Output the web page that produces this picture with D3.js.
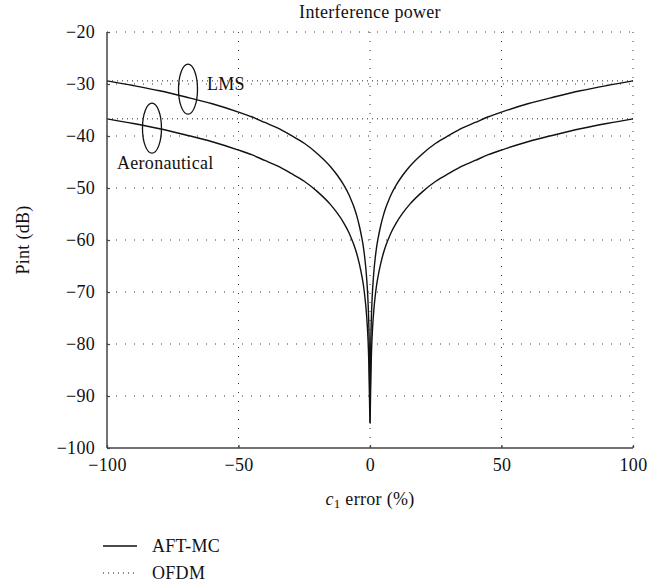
<!DOCTYPE html>
<html>
<head>
<meta charset="utf-8">
<script src="https://cdn.jsdelivr.net/npm/d3@7"></script>
<style>
  body { margin: 0; background: #fff; }
  text { font-family: "Liberation Serif", "DejaVu Serif", serif; fill: #111; letter-spacing: 0.3px; }
</style>
</head>
<body>
<div id="chart"></div>
<script>

var width = 670,
    height = 588,
    margin = {top: 32, right: 37, bottom: 140, left: 107},
    fontSize = 18;

// c1 error (%) sample points
var cError = [-100, -90, -80, -70, -60, -50, -45, -40, -35, -30, -25, -20, -15, -12.5, -10, -8, -7, -6, -5, -4, -3, -2.5, -2, -1.5, -1, -0.75, -0.5, -0.25, 0,
              0.25, 0.5, 0.75, 1, 1.5, 2, 2.5, 3, 4, 5, 6, 7, 8, 10, 12.5, 15, 20, 25, 30, 35, 40, 45, 50, 60, 70, 80, 90, 100];

// AFT-MC interference power (dB), LMS channel
var lmsPint = [-29.4, -30.3, -31.3, -32.5, -33.8, -35.4, -36.3, -37.4, -38.5, -39.9, -41.4, -43.4, -45.9, -47.5, -49.4, -51.3, -52.5, -53.8, -55.4, -57.4, -59.9, -61.4, -63.4, -65.9, -69.4, -71.9, -75.4, -81.4, -95.2,
               -81.4, -75.4, -71.9, -69.4, -65.9, -63.4, -61.4, -59.9, -57.4, -55.4, -53.8, -52.5, -51.3, -49.4, -47.5, -45.9, -43.4, -41.4, -39.9, -38.5, -37.4, -36.3, -35.4, -33.8, -32.5, -31.3, -30.3, -29.4];

// AFT-MC interference power (dB), aeronautical channel
var aeroPint = [-36.7, -37.6, -38.6, -39.8, -41.1, -42.7, -43.6, -44.7, -45.8, -47.2, -48.7, -50.7, -53.2, -54.8, -56.7, -58.6, -59.8, -61.1, -62.7, -64.7, -67.2, -68.7, -70.7, -73.2, -76.7, -79.2, -82.7, -88.7, -95.2,
                -88.7, -82.7, -79.2, -76.7, -73.2, -70.7, -68.7, -67.2, -64.7, -62.7, -61.1, -59.8, -58.6, -56.7, -54.8, -53.2, -50.7, -48.7, -47.2, -45.8, -44.7, -43.6, -42.7, -41.1, -39.8, -38.6, -37.6, -36.7];

// OFDM levels (dB)
var ofdmPint = [-29.4, -36.7];

var xTicks = [-100, -50, 0, 50, 100],
    yTicks = [-100, -90, -80, -70, -60, -50, -40, -30, -20];

// annotation ellipses: [c1, dB]
var ellipses = [
    {name: "LMS", cx: -69.2, cy: -31, tx: -62, ty: -31.2},
    {name: "Aeronautical", cx: -82.9, cy: -38.5, tx: -96.2, ty: -46.4}
];

var legendItems = [
    {label: "AFT-MC", dash: null},
    {label: "OFDM", dash: "1,4"}
];

var w = width - margin.left - margin.right,
    h = height - margin.top - margin.bottom;

var x = d3.scaleLinear().domain([-100, 100]).range([0, w]);
var y = d3.scaleLinear().domain([-100, -20]).range([h, 0]);

var svg = d3.select("#chart").append("svg")
    .attr("width", width)
    .attr("height", height);

var g = svg.append("g")
    .attr("transform", "translate(" + margin.left + "," + margin.top + ")");

// dotted grid
g.selectAll(".hgrid")
    .data(yTicks.filter(function(d){ return d > -100; }))
    .enter().append("line")
    .attr("x1", 0).attr("x2", w)
    .attr("y1", function(d){ return y(d); })
    .attr("y2", function(d){ return y(d); })
    .attr("stroke", "#333")
    .attr("stroke-width", 1)
    .attr("stroke-dasharray", "1,8");

g.selectAll(".vgrid")
    .data(xTicks.filter(function(d){ return d > -100; }))
    .enter().append("line")
    .attr("y1", 0).attr("y2", h)
    .attr("x1", function(d){ return x(d); })
    .attr("x2", function(d){ return x(d); })
    .attr("stroke", "#333")
    .attr("stroke-width", 1)
    .attr("stroke-dasharray", "1,8");

// OFDM
g.selectAll(".ofdm")
    .data(ofdmPint)
    .enter().append("line")
    .attr("x1", x(-100)).attr("x2", x(100))
    .attr("y1", function(d){ return y(d); })
    .attr("y2", function(d){ return y(d); })
    .attr("stroke", "#222")
    .attr("stroke-width", 1)
    .attr("stroke-dasharray", "1,4");

// AFT-MC curves
var line = d3.line()
    .x(function(d){ return x(d[0]); })
    .y(function(d){ return y(d[1]); })
    .curve(d3.curveMonotoneX);

[lmsPint, aeroPint].forEach(function(series){
    g.append("path")
        .datum(cError.map(function(c, i){ return [c, series[i]]; }))
        .attr("d", line)
        .attr("fill", "none")
        .attr("stroke", "#111")
        .attr("stroke-width", 1.4);
});

// axes
var yAxis = d3.axisLeft(y)
    .tickValues(yTicks)
    .tickSize(-3)
    .tickPadding(12)
    .tickFormat(d3.format("d"));

var xAxis = d3.axisBottom(x)
    .tickValues(xTicks)
    .tickSize(-3)
    .tickPadding(10)
    .tickFormat(d3.format("d"));

var ya = g.append("g").call(yAxis);
var xa = g.append("g").attr("transform", "translate(0," + h + ")").call(xAxis);

[ya, xa].forEach(function(a){
    a.select(".domain").attr("stroke", "#444").attr("stroke-width", 1.5);
    a.selectAll(".tick line").attr("stroke", "#444").attr("stroke-width", 1.2);
    a.selectAll(".tick text")
        .attr("font-family", "Liberation Serif")
        .attr("font-size", fontSize)
        .attr("fill", "#111");
});
ya.select(".domain").attr("d", "M0," + h + "V0");
xa.select(".domain").attr("d", "M0,0H" + w);

// annotations
ellipses.forEach(function(e){
    g.append("ellipse")
        .attr("cx", x(e.cx))
        .attr("cy", y(e.cy))
        .attr("rx", 9.5)
        .attr("ry", 25)
        .attr("fill", "none")
        .attr("stroke", "#111")
        .attr("stroke-width", 1.3);
    g.append("text")
        .attr("x", x(e.tx))
        .attr("y", y(e.ty))
        .attr("font-size", fontSize)
        .text(e.name);
});

// title
svg.append("text")
    .attr("x", margin.left + w / 2)
    .attr("y", 18)
    .attr("text-anchor", "middle")
    .attr("font-size", fontSize)
    .text("Interference power");

// y label
svg.append("text")
    .attr("transform", "translate(29," + (margin.top + h / 2) + ") rotate(-90)")
    .attr("text-anchor", "middle")
    .attr("font-size", fontSize)
    .text("Pint (dB)");

// x label
var xl = svg.append("text")
    .attr("x", margin.left + w / 2)
    .attr("y", 505)
    .attr("text-anchor", "middle")
    .attr("font-size", fontSize);
xl.append("tspan").attr("font-style", "italic").text("c");
xl.append("tspan").attr("font-size", 13).attr("dy", 3).text("1");
xl.append("tspan").attr("dy", -3).text(" error (%)");

// legend
var leg = svg.selectAll(".legend")
    .data(legendItems)
    .enter().append("g")
    .attr("transform", function(d, i){ return "translate(103," + (546 + i * 27) + ")"; });

leg.append("line")
    .attr("x1", 0).attr("x2", 34)
    .attr("stroke", "#111")
    .attr("stroke-width", function(d){ return d.dash ? 1 : 1.3; })
    .attr("stroke-dasharray", function(d){ return d.dash; });

leg.append("text")
    .attr("x", 49)
    .attr("y", 6)
    .attr("font-size", fontSize)
    .text(function(d){ return d.label; });

</script>
</body>
</html>
